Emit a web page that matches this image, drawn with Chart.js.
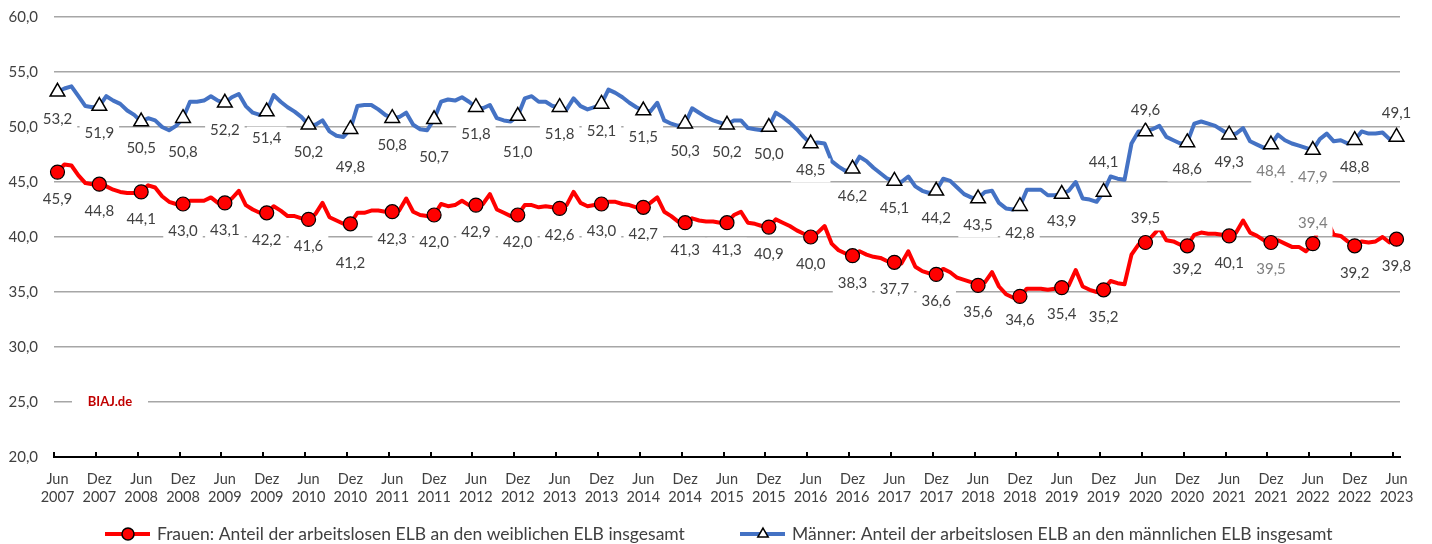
<!DOCTYPE html>
<html>
<head>
<meta charset="utf-8">
<script src="https://cdn.jsdelivr.net/npm/chart.js@4.4.0/dist/chart.umd.min.js"></script>
<style>
  html, body { margin: 0; padding: 0; background: #fff; }
  canvas { display: block; }
</style>
</head>
<body>
<canvas id="chart" width="1432" height="544"></canvas>
<script>
// monthly values Jun 2007 ... Jun 2023, one row = Jun..Mai
const frauen = [
  45.9, 46.6, 46.5, 45.6, 44.9, 44.8, 44.8, 44.6, 44.3, 44.1, 44.0, 44.0,
  44.1, 44.7, 44.5, 43.7, 43.2, 43.0, 43.0, 43.3, 43.3, 43.3, 43.6, 43.1,
  43.1, 43.5, 44.2, 42.9, 42.5, 42.2, 42.2, 42.8, 42.4, 41.9, 41.9, 41.7,
  41.6, 42.1, 43.1, 41.8, 41.5, 41.2, 41.2, 42.2, 42.2, 42.4, 42.4, 42.3,
  42.3, 42.4, 43.5, 42.3, 42.0, 41.9, 42.0, 43.0, 42.8, 42.9, 43.3, 42.9,
  42.9, 43.0, 43.9, 42.5, 42.2, 41.9, 42.0, 42.9, 42.9, 42.7, 42.8, 42.7,
  42.6, 42.9, 44.1, 43.1, 42.8, 42.9, 43.0, 43.2, 43.2, 43.0, 42.9, 42.7,
  42.7, 43.1, 43.6, 42.3, 41.9, 41.4, 41.3, 41.7, 41.5, 41.4, 41.4, 41.3,
  41.3, 42.0, 42.3, 41.3, 41.2, 41.0, 40.9, 41.6, 41.3, 41.0, 40.6, 40.3,
  40.0, 40.4, 41.0, 39.4, 38.8, 38.5, 38.3, 38.7, 38.4, 38.2, 38.1, 37.8,
  37.7, 37.6, 38.7, 37.3, 36.9, 36.7, 36.6, 37.1, 36.8, 36.3, 36.1, 35.9,
  35.6, 35.9, 36.8, 35.5, 34.8, 34.5, 34.6, 35.3, 35.3, 35.3, 35.2, 35.3,
  35.4, 35.6, 37.0, 35.5, 35.2, 35.0, 35.2, 36.0, 35.8, 35.7, 38.4, 39.3,
  39.5, 40.1, 40.8, 39.7, 39.6, 39.3, 39.2, 40.2, 40.4, 40.3, 40.3, 40.2,
  40.1, 40.4, 41.5, 40.4, 40.1, 39.7, 39.5, 39.7, 39.4, 39.1, 39.1, 38.7,
  39.4, 41.0, 41.6, 40.2, 40.1, 39.6, 39.2, 39.6, 39.5, 39.6, 40.0, 39.5,
  39.8
];

const maenner = [
  53.2, 53.5, 53.7, 52.8, 51.9, 51.8, 51.9, 52.8, 52.4, 52.1, 51.5, 51.1,
  50.5, 50.8, 50.6, 50.0, 49.7, 50.1, 50.8, 52.3, 52.3, 52.4, 52.8, 52.4,
  52.2, 52.7, 53.0, 51.9, 51.3, 51.1, 51.4, 52.9, 52.3, 51.8, 51.4, 50.9,
  50.2, 50.2, 50.6, 49.6, 49.2, 49.1, 49.8, 51.9, 52.0, 52.0, 51.6, 51.1,
  50.8, 50.9, 51.3, 50.2, 49.8, 49.7, 50.7, 52.3, 52.5, 52.4, 52.7, 52.3,
  51.8, 51.7, 52.0, 50.8, 50.6, 50.5, 51.0, 52.6, 52.8, 52.3, 52.3, 51.9,
  51.8, 51.6, 52.6, 51.9, 51.6, 51.8, 52.1, 53.4, 53.1, 52.7, 52.2, 51.8,
  51.5, 51.4, 52.2, 50.6, 50.3, 50.1, 50.3, 51.7, 51.3, 50.9, 50.6, 50.4,
  50.2, 50.6, 50.6, 49.9, 49.8, 49.7, 50.0, 51.3, 50.9, 50.4, 49.8, 49.1,
  48.5, 48.6, 48.5, 46.9, 46.4, 46.0, 46.2, 47.3, 46.9, 46.3, 45.8, 45.3,
  45.1, 45.0, 45.5, 44.6, 44.2, 44.0, 44.2, 45.3, 45.1, 44.5, 43.9, 43.6,
  43.5, 44.1, 44.2, 43.1, 42.6, 42.5, 42.8, 44.3, 44.3, 44.3, 43.8, 43.8,
  43.9, 44.2, 45.0, 43.5, 43.4, 43.2, 44.1, 45.5, 45.3, 45.2, 48.5, 49.6,
  49.6, 49.8, 50.1, 49.1, 48.8, 48.5, 48.6, 50.3, 50.5, 50.3, 50.1, 49.7,
  49.3, 49.4, 49.9, 48.7, 48.4, 48.1, 48.4, 49.3, 48.8, 48.5, 48.3, 48.1,
  47.9, 48.9, 49.4, 48.7, 48.8, 48.5, 48.8, 49.6, 49.4, 49.4, 49.5, 48.9,
  49.1
];

const tickLabels = [
  ['Jun', '2007'], ['Dez', '2007'], ['Jun', '2008'], ['Dez', '2008'],
  ['Jun', '2009'], ['Dez', '2009'], ['Jun', '2010'], ['Dez', '2010'],
  ['Jun', '2011'], ['Dez', '2011'], ['Jun', '2012'], ['Dez', '2012'],
  ['Jun', '2013'], ['Dez', '2013'], ['Jun', '2014'], ['Dez', '2014'],
  ['Jun', '2015'], ['Dez', '2015'], ['Jun', '2016'], ['Dez', '2016'],
  ['Jun', '2017'], ['Dez', '2017'], ['Jun', '2018'], ['Dez', '2018'],
  ['Jun', '2019'], ['Dez', '2019'], ['Jun', '2020'], ['Dez', '2020'],
  ['Jun', '2021'], ['Dez', '2021'], ['Jun', '2022'], ['Dez', '2022'],
  ['Jun', '2023']
];

const seriesNames = [
  'Frauen: Anteil der arbeitslosen ELB an den weiblichen ELB insgesamt',
  'Männer: Anteil der arbeitslosen ELB an den männlichen ELB insgesamt'
];

const monthNames = ['Jan', 'Feb', 'Mär', 'Apr', 'Mai', 'Jun', 'Jul', 'Aug', 'Sep', 'Okt', 'Nov', 'Dez'];
const months = frauen.map((_, i) => monthNames[(5 + i) % 12] + ' ' + (2007 + Math.floor((5 + i) / 12)));

const FONT = 'Lato, "Open Sans", sans-serif';
const TEXT = '#404040';
const fmt = v => v.toFixed(1).replace('.', ',');

// label placement (dy from the marker, px); default below
const labelDy = [
  { 7: 39, 23: 24, 26: -24, 27: 23, 30: -20 },
  { 3: 34, 7: 38, 9: 38, 11: 36, 25: -30, 26: -21, 32: -24 }
];
const greyLabels = [[29, 30], [29, 30]];

const markerLabels = {
  id: 'markerLabels',
  afterDatasetsDraw(chart) {
    const ctx = chart.ctx;
    ctx.save();
    ctx.font = '15px ' + FONT;
    ctx.textAlign = 'center';
    ctx.textBaseline = 'middle';
    chart.data.datasets.forEach((ds, d) => {
      const meta = chart.getDatasetMeta(d);
      ds.data.forEach((v, i) => {
        if (i % 6) return;
        const k = i / 6;
        const pt = meta.data[i];
        const dy = labelDy[d][k] !== undefined ? labelDy[d][k] : 27;
        const txt = fmt(v);
        const w = ctx.measureText(txt).width + 10;
        const y = pt.y + dy;
        ctx.fillStyle = '#fff';
        ctx.fillRect(pt.x - w / 2, y - 12, w, 24);
        ctx.fillStyle = greyLabels[d].includes(k) ? '#7f7f7f' : TEXT;
        ctx.fillText(txt, pt.x, y);
      });
    });

    // BIAJ.de stamp on the 25,0 line
    const yS = chart.scales.y;
    const by = yS.getPixelForValue(25);
    const bx = chart.chartArea.left + 56;
    ctx.fillStyle = '#fff';
    ctx.fillRect(bx - 38, by - 10, 76, 20);
    ctx.font = 'bold 13px ' + FONT;
    ctx.fillStyle = '#c00000';
    ctx.fillText('BIAJ.de', bx, by);
    ctx.restore();
  },
  afterDraw(chart) {
    const ctx = chart.ctx;
    const xS = chart.scales.x;
    const bottom = chart.chartArea.bottom;
    const half = (xS.getPixelForValue(1) - xS.getPixelForValue(0)) / 2;
    ctx.save();
    // inner tick marks every half year
    ctx.strokeStyle = '#000';
    ctx.lineWidth = 2;
    for (let i = 0; i < months.length; i += 6) {
      const x = Math.round(xS.getPixelForValue(i) - half);
      ctx.beginPath();
      ctx.moveTo(x, bottom);
      ctx.lineTo(x, bottom - 5);
      ctx.stroke();
    }

    // legend
    const ly = 534;
    const items = [
      { x: 105, color: '#ff0000', style: 'circle', fill: '#ff0000', r: 6 },
      { x: 740, color: '#4472c4', style: 'triangle', fill: '#fff', r: 6 }
    ];
    ctx.font = '17.5px ' + FONT;
    ctx.textBaseline = 'middle';
    ctx.textAlign = 'left';
    items.forEach((it, n) => {
      ctx.strokeStyle = it.color;
      ctx.lineWidth = 4;
      ctx.beginPath();
      ctx.moveTo(it.x, ly);
      ctx.lineTo(it.x + 45, ly);
      ctx.stroke();
      ctx.lineWidth = 1.5;
      ctx.strokeStyle = '#000';
      ctx.fillStyle = it.fill;
      Chart.helpers.drawPoint(ctx, { pointStyle: it.style, radius: it.r, borderWidth: 1.5 }, it.x + 23, ly);
      ctx.fillStyle = TEXT;
      ctx.fillText(seriesNames[n], it.x + 52, ly);
    });
    ctx.restore();
  }
};

const marker = r => ctx => (ctx.dataIndex % 6 === 0 ? r : 0);

new Chart(document.getElementById('chart'), {
  type: 'line',
  data: {
    labels: months,
    datasets: [
      {
        label: seriesNames[0],
        data: frauen,
        borderColor: '#ff0000',
        borderWidth: 4,
        borderJoinStyle: 'round',
        borderCapStyle: 'round',
        tension: 0,
        pointStyle: 'circle',
        pointRadius: marker(7),
        pointBackgroundColor: '#ff0000',
        pointBorderColor: '#000',
        pointBorderWidth: 1.2
      },
      {
        label: seriesNames[1],
        data: maenner,
        borderColor: '#4472c4',
        borderWidth: 4,
        borderJoinStyle: 'round',
        borderCapStyle: 'round',
        tension: 0,
        pointStyle: 'triangle',
        pointRadius: marker(8.5),
        pointBackgroundColor: '#fff',
        pointBorderColor: '#000',
        pointBorderWidth: 1.5
      }
    ]
  },
  options: {
    responsive: false,
    animation: false,
    events: [],
    layout: { padding: { left: 0, right: 32, top: 17, bottom: 0 } },
    scales: {
      x: {
        offset: true,
        grid: { display: false, drawTicks: false },
        border: { display: true, color: '#000', width: 2 },
        ticks: {
          autoSkip: false,
          maxRotation: 0,
          minRotation: 0,
          padding: 13,
          color: TEXT,
          font: { family: FONT, size: 14.5, lineHeight: 1.25 },
          callback: (v, i) => (i % 6 === 0 ? tickLabels[i / 6] : '')
        },
        afterFit: s => { s.height = 87; }
      },
      y: {
        min: 20,
        max: 60,
        grid: { color: '#a6a6a6', lineWidth: 1.5, drawTicks: true, tickLength: 14, tickColor: 'rgba(0,0,0,0)' },
        border: { display: false },
        ticks: {
          stepSize: 5,
          padding: 2,
          color: TEXT,
          font: { family: FONT, size: 15 },
          callback: v => fmt(v)
        },
        afterFit: s => { s.width = 54; }
      }
    },
    plugins: {
      legend: { display: false },
      tooltip: { enabled: false }
    }
  },
  plugins: [markerLabels]
});
</script>
</body>
</html>
